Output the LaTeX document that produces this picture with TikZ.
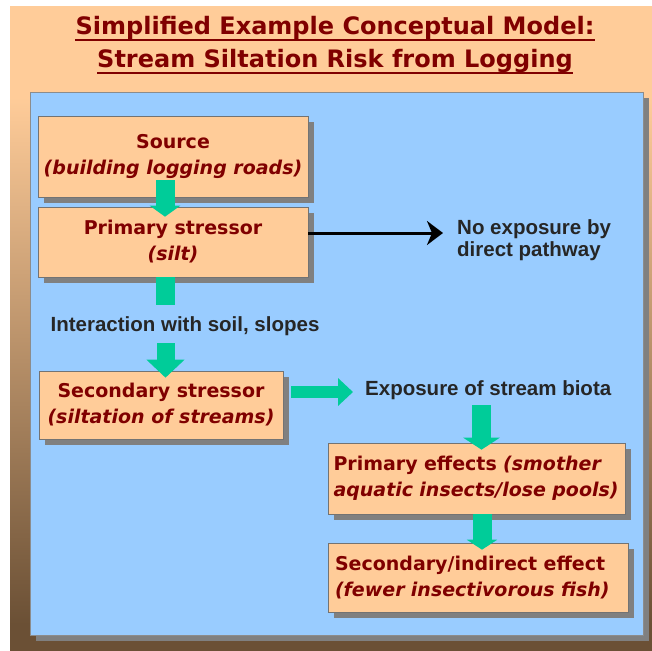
\documentclass[tikz,border=0pt]{standalone}
\usepackage{fontspec}
\setmainfont{DejaVu Sans}
\newfontfamily\lblfont{Liberation Sans}
\usetikzlibrary{arrows.meta,shadows}

\definecolor{peach}{RGB}{255,204,153}
\definecolor{skyblue}{RGB}{153,204,255}
\definecolor{darkred}{RGB}{128,0,0}
\definecolor{arrowgreen}{RGB}{0,204,153}
\definecolor{bgbrown}{RGB}{107,80,53}
\pgfdeclareverticalshading{bgfade}{100bp}{color(0bp)=(bgbrown); color(27bp)=(bgbrown); color(68bp)=(peach); color(100bp)=(peach)}

\begin{document}
\begin{tikzpicture}[x=1pt, y=-1pt,
            box/.style={draw=black!55, line width=0.6pt, fill=peach, text=darkred, inner sep=0pt,
            font=\bfseries\fontsize{19}{26}\selectfont, align=center,
            drop shadow={shadow xshift=6pt, shadow yshift=-6pt, fill=black!50, opacity=1}},
            lbl/.style={font=\lblfont\bfseries\fontsize{20.5}{22}\selectfont, text=black!85, inner sep=0pt},
            ttl/.style={font=\bfseries\fontsize{24}{33}\selectfont, text=darkred, inner sep=0pt, anchor=base},
            grn/.style={draw=arrowgreen, line width=19pt}]
            \useasboundingbox (0,0) rectangle (652,650);

            \shade[shading=bgfade] (10,7) rectangle (652,650);
            \fill[black!50] (36,98) rectangle (649,641);
            \filldraw[fill=skyblue, draw=black!45] (30,92) rectangle (643,635);

            \node[ttl] (ttl1) at (335,35) {Simplified Example Conceptual Model:};
            \node[ttl] (ttl2) at (335,68) {Stream Siltation Risk from Logging};
            \draw[darkred, line width=2pt] ([yshift=-5pt]ttl1.base west) to ([yshift=-5pt]ttl1.base east);
            \draw[darkred, line width=2pt] ([yshift=-5pt]ttl2.base west) to ([yshift=-5pt]ttl2.base east);

            \node[box, minimum width=270pt, minimum height=81pt] (src) at (173,156.5) {Source\\\textit{(building logging roads)}};
            \node[box, minimum width=270pt, minimum height=70pt] (prim) at (173,242) {Primary stressor\\\textit{(silt)}};
            \node[box, minimum width=244pt, minimum height=68pt] (sec) at (161,405) {Secondary stressor\\\textit{(siltation of streams)}};
            \node[box, minimum width=297pt, minimum height=71pt, align=left, text width=286pt] (peff) at (476.5,478.5) {Primary effects \textit{(smother}\\\textit{aquatic insects/lose pools)}};
            \node[box, minimum width=300pt, minimum height=69pt, align=left, text width=286pt] (seff) at (478,577.5) {Secondary/indirect effect\\\textit{(fewer insectivorous fish)}};

            \node[lbl] (inter) at (185,326) {Interaction with soil, slopes};
            \node[lbl, anchor=west, align=left] (nodir) at (457,240) {No exposure by\\direct pathway};
            \node[lbl, anchor=west] (expo) at (365,390) {Exposure of stream biota};

            \coordinate (i1) at (165,305);
            \coordinate (i2) at (165.5,343);
            \coordinate (e1) at (481.5,405);

            \draw[line width=3pt, -{Stealth[length=16pt,width=24pt,inset=5pt]}, shorten >=14pt] ([yshift=9pt]prim.east) to ([yshift=9pt]prim.east -| nodir.west);

            \draw[grn, -{Triangle[width=30pt,length=11pt]}, shorten <=-17pt, shorten >=-10pt] ([xshift=-8pt]src.south) to ([xshift=-8pt]prim.north);
            \draw[grn] ([xshift=-8pt]prim.south) to (i1);
            \draw[grn, line width=18pt, -{Triangle[width=37pt,length=18pt]}, shorten >=-7pt] (i2) to (sec.north -| i2);
            \draw[grn, line width=12pt, -{Triangle[width=27pt,length=15pt]}, shorten <=8pt, shorten >=12pt] ([yshift=13pt]sec.east) to ([yshift=13pt]sec.east -| expo.west);
            \draw[grn, -{Triangle[width=36pt,length=12pt]}, shorten >=-7pt] (e1) to (peff.north -| e1);
            \draw[grn, -{Triangle[width=30pt,length=10pt]}, shorten >=-7pt] ([xshift=5.5pt]peff.south) to ([xshift=5.5pt]peff.south |- seff.north);
\end{tikzpicture}
\end{document}
